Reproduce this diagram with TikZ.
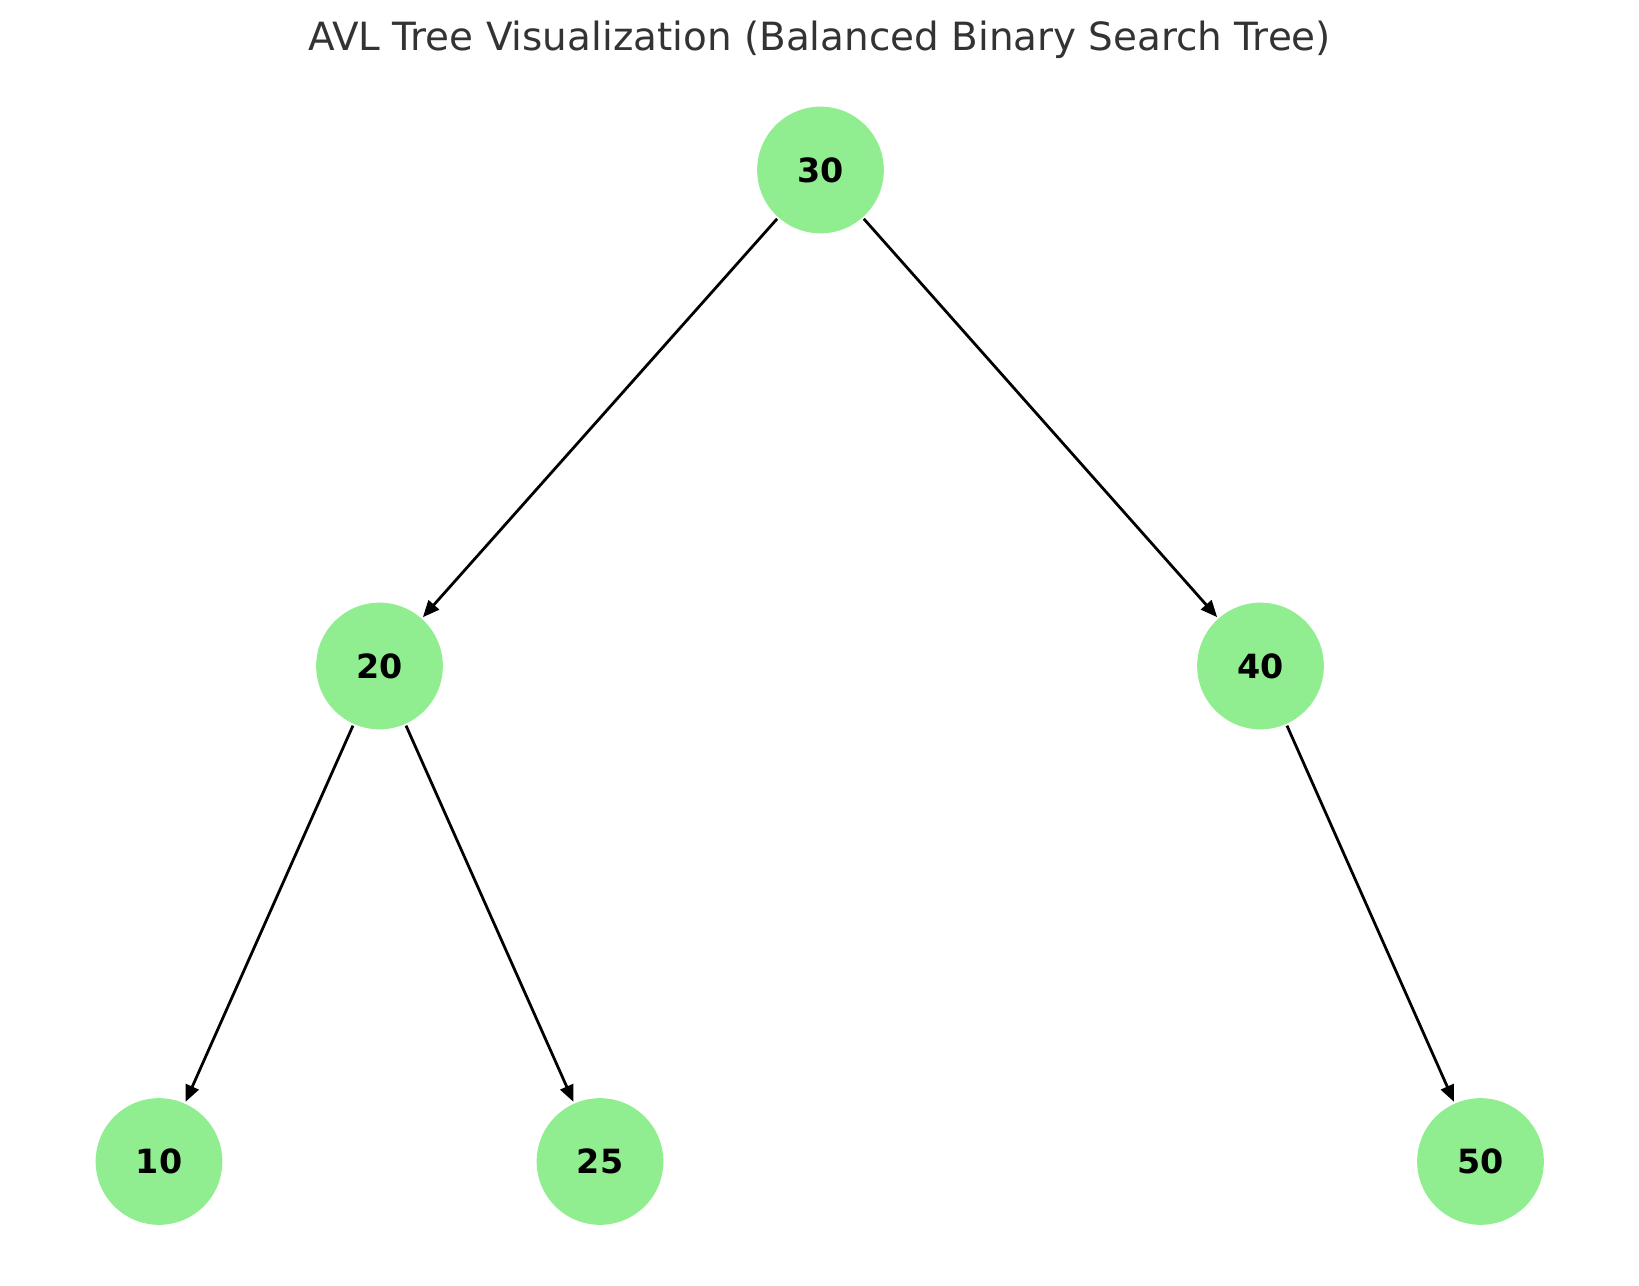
\documentclass[tikz,border=0pt]{standalone}
\usepackage{fontspec}
\setmainfont{DejaVu Sans}
\usetikzlibrary{arrows.meta}
\definecolor{nodegreen}{HTML}{90EE90}
\definecolor{titlegray}{HTML}{333333}
\tikzset{
  avl/.style={circle, fill=nodegreen, minimum size=45.6pt, inner sep=0pt,
    outer sep=0.7pt, font=\fontsize{12}{14}\selectfont\bfseries},
  edge/.style={-{Triangle[length=6pt,width=5pt]}, line width=1pt},
}
\begin{document}
\begin{tikzpicture}[x=0.36pt,y=-0.36pt]
      \useasboundingbox (0,0) rectangle (1639,1286);
      \node[font=\fontsize{14}{17}\selectfont, text=titlegray] (title) at (819.5,39.5) {AVL Tree Visualization (Balanced Binary Search Tree)};
      \node[avl] (n30) at (820.5,170) {30};
      \node[avl] (n20) at (379.5,666) {20};
      \node[avl] (n40) at (1260.5,666) {40};
      \node[avl] (n10) at (159,1161.5) {10};
      \node[avl] (n25) at (600,1161.5) {25};
      \node[avl] (n50) at (1480.5,1161.5) {50};
      \draw [edge] (n30) -- (n20);
      \draw [edge] (n30) -- (n40);
      \draw [edge] (n20) -- (n10);
      \draw [edge] (n20) -- (n25);
      \draw [edge] (n40) -- (n50);
    \end{tikzpicture}
\end{document}
